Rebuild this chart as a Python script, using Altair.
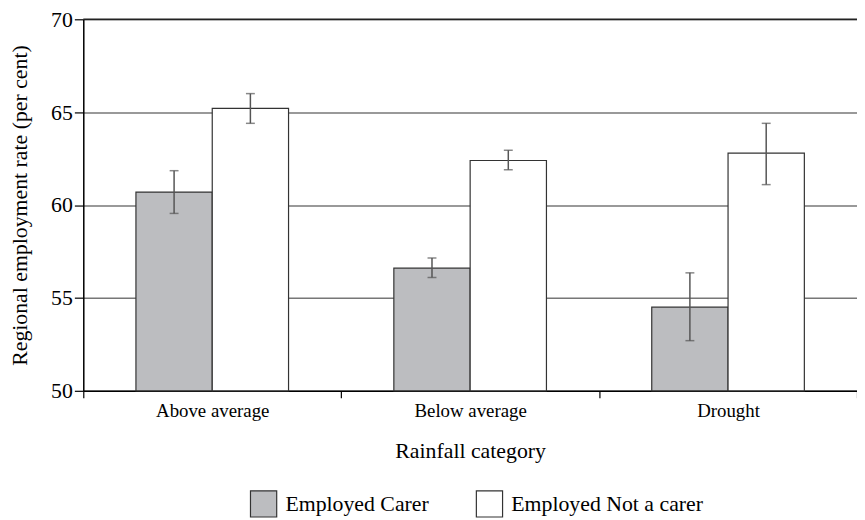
import altair as alt
import pandas as pd

categories = ["Above average", "Below average", "Drought"]
series = ["Employed Carer", "Employed Not a carer"]
carer_vals = [60.7, 56.6, 54.5]
carer_lo = [59.55, 56.1, 52.7]
carer_hi = [61.85, 57.15, 56.35]
notcarer_vals = [65.2, 62.4, 62.8]
notcarer_lo = [64.4, 61.9, 61.1]
notcarer_hi = [66.0, 62.95, 64.4]
y_ticks = [50, 55, 60, 65, 70]

rows = []
for i, c in enumerate(categories):
    rows.append({"cat": c, "series": series[0], "v": carer_vals[i], "lo": carer_lo[i], "hi": carer_hi[i]})
    rows.append({"cat": c, "series": series[1], "v": notcarer_vals[i], "lo": notcarer_lo[i], "hi": notcarer_hi[i]})
df = pd.DataFrame(rows)

FONT = "Liberation Serif"
YTITLE = "Regional employment rate (per cent)"

x = alt.X("cat:N", sort=categories, title="Rainfall category",
          scale=alt.Scale(paddingInner=0, paddingOuter=0),
          axis=alt.Axis(labelAngle=0, tickBand="extent", labelFont=FONT, titleFont=FONT))
xo = alt.XOffset("series:N", sort=series, scale=alt.Scale(paddingInner=0, paddingOuter=0.69))
yscale = alt.Scale(domain=[50, 70], zero=False, nice=False)
yaxis = alt.Axis(values=y_ticks, grid=True, labelFont=FONT, titleFont=FONT,
                 labelFontSize=22, titleFontSize=22)

base = alt.Chart(df)

bars = base.mark_bar(stroke="#333", strokeWidth=1.2).encode(
    x=x, xOffset=xo,
    y=alt.Y("v:Q", scale=yscale, title=YTITLE, axis=yaxis),
    y2=alt.datum(50),
    fill=alt.Fill("series:N", sort=series,
                  scale=alt.Scale(domain=series, range=["#bcbdc0", "#ffffff"]),
                  legend=alt.Legend(title=None, orient="none", direction="horizontal",
                                    legendX=168, legendY=475,
                                    symbolType="square", symbolSize=700,
                                    symbolStrokeColor="#333", symbolStrokeWidth=1.2,
                                    labelFont=FONT, labelFontSize=22, labelColor="black",
                                    labelLimit=400, labelOffset=8, columnPadding=45)),
)

err = base.mark_rule(color="#555", strokeWidth=1.5).encode(
    x=x, xOffset=xo, y=alt.Y("lo:Q", scale=yscale, title=YTITLE, axis=yaxis), y2="hi:Q")
cap_lo = base.mark_tick(color="#555", thickness=1.5, size=9, orient="horizontal").encode(
    x=x, xOffset=xo, y=alt.Y("lo:Q", scale=yscale, title=YTITLE, axis=yaxis))
cap_hi = base.mark_tick(color="#555", thickness=1.5, size=9, orient="horizontal").encode(
    x=x, xOffset=xo, y=alt.Y("hi:Q", scale=yscale, title=YTITLE, axis=yaxis))

top = alt.Chart(pd.DataFrame({"y": [70]})).mark_rule(color="#222", strokeWidth=1.5).encode(
    y=alt.Y("y:Q", scale=yscale, title=YTITLE, axis=yaxis))

chart = alt.layer(bars, err, cap_lo, cap_hi, top).properties(
    width=781, height=375,
    autosize=alt.AutoSizeParams(type="none"),
    padding={"left": 76, "top": 9, "right": 0, "bottom": 128},
).configure_view(stroke=None).configure(background="white", font=FONT).configure_axis(
    labelFont=FONT, labelColor="black", titleFont=FONT, titleColor="black",
    titleFontWeight="normal", domainColor="black", domainWidth=1.5,
    tickColor="black", tickWidth=1.2,
).configure_axisX(
    tickSize=7, labelPadding=4, labelFontSize=19, titleFontSize=22, titlePadding=20,
    grid=False,
).configure_axisY(
    tickSize=9, labelPadding=2, labelFontSize=22, titleFontSize=22, titlePadding=19,
    gridColor="#777", gridWidth=1.5,
)

chart.save("out.html", embed_options={"renderer": "svg", "actions": False})
